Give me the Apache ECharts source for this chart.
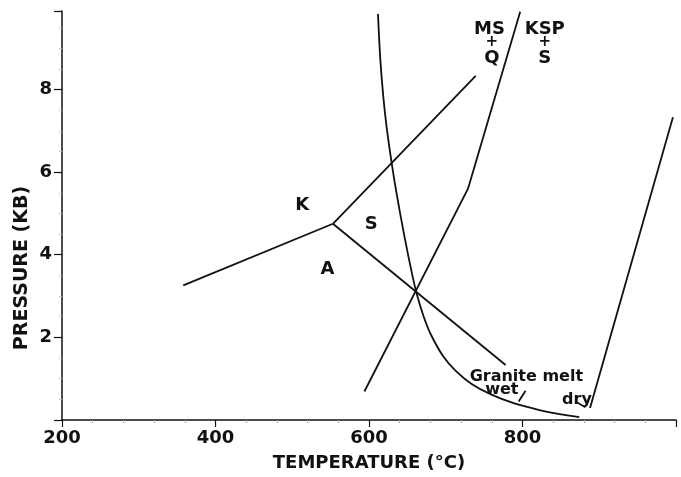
<!DOCTYPE html>
<html><head><meta charset="utf-8">
<script src="https://cdn.jsdelivr.net/npm/echarts@6/dist/echarts.min.js"></script>
<style>html,body{margin:0;padding:0;background:#fff}#c{width:681px;height:477px}</style>
</head><body><div id="c"></div>
<script>
// ---- data (temperature °C, pressure kb) ----
const xTickValues = [200, 400, 600, 800, 1000];
const xLabelValues = [200, 400, 600, 800];
const yTickValues = [0, 2, 4, 6, 8, 9.9];
const yLabelValues = [2, 4, 6, 8];

const kyaniteAndalusite = [[358, 3.26], [553, 4.75]];
const kyaniteSillimanite = [[553, 4.75], [739, 8.33]];
const andalusiteSillimanite = [[553, 4.75], [778, 1.33]];
const muscoviteQuartz = [[594, 0.69], [729, 5.6], [797, 9.88]];
const wetSolidus = [[611.7, 9.83], [614.7, 8.74], [618.8, 7.79], [623.1, 7.07], [629.6, 6.21],
  [635.6, 5.52], [646.1, 4.45], [656.5, 3.50], [662.7, 3.02], [671.3, 2.50], [680.6, 2.07],
  [696.4, 1.55], [713.0, 1.19], [733.2, 0.88], [758.9, 0.62], [789.4, 0.40], [822.1, 0.24],
  [848.1, 0.14], [874.0, 0.07]];
const drySolidus = [[888, 0.29], [996, 7.33]];
const wetPointer = [[795, 0.45], [804, 0.71]];
const dryPointer = [[869, 0.45], [882, 0.31]];

const phaseLabels = [[513, 5.29, 'K'], [603, 4.83, 'S'], [546, 3.74, 'A']];
const reactionLabels = [[757, 9.5, 'MS'], [760, 8.81, 'Q'], [829, 9.5, 'KSP'], [829, 8.81, 'S']];
const plusLabels = [[760, 9.17, '+'], [829, 9.17, '+']];
const meltLabels = [[805, 1.17, 'Granite melt'], [773, 0.86, 'wet'], [871, 0.62, 'dry']];

const FONT = 'DejaVu Sans';
const INK = '#111';

function lineSeries(data) {
  return {
    type: 'line', data: data, showSymbol: false, symbol: 'none', silent: true,
    lineStyle: { color: INK, width: 1.8 }
  };
}
function textSeries(data, size, dy) {
  return {
    type: 'scatter', data: data, symbolSize: 0, silent: true,
    itemStyle: { opacity: 1 },
    label: {
      show: true, position: 'inside', formatter: p => p.data[2], offset: [0, dy],
      fontFamily: FONT, fontWeight: 'bold', fontSize: size, color: INK, opacity: 1
    }
  };
}

const chart = echarts.init(document.getElementById('c'), null, { renderer: 'canvas' });
chart.setOption({
  animation: false,
  backgroundColor: '#fff',
  grid: { left: 62, right: 5, top: 11, bottom: 50, containLabel: false },
  xAxis: {
    type: 'value', min: 200, max: 1000, interval: 200,
    name: 'TEMPERATURE (°C)', nameLocation: 'middle', nameGap: 34,
    nameTextStyle: { fontFamily: FONT, fontWeight: 'bold', fontSize: 18, color: INK },
    axisLine: { lineStyle: { color: INK, width: 1.5 } },
    axisTick: { show: true, length: 7, lineStyle: { color: INK, width: 1.2 }, customValues: xTickValues },
    minorTick: { show: true, splitNumber: 5, length: 3, lineStyle: { color: '#aaa', width: 1 } },
    axisLabel: { fontFamily: FONT, fontWeight: 'bold', fontSize: 18, color: INK, margin: 9,
      customValues: xLabelValues },
    splitLine: { show: false }
  },
  yAxis: {
    type: 'value', min: 0, max: 9.9, interval: 2,
    axisLine: { lineStyle: { color: INK, width: 1.5 } },
    axisTick: { show: true, length: 8, lineStyle: { color: INK, width: 1.2 }, customValues: yTickValues },
    minorTick: { show: true, splitNumber: 4, length: 3, lineStyle: { color: '#bbb', width: 1 } },
    axisLabel: { fontFamily: FONT, fontWeight: 'bold', fontSize: 18, color: INK, margin: 10,
      customValues: yLabelValues },
    splitLine: { show: false }
  },
  graphic: [{
    type: 'text', x: 22, y: 268, rotation: Math.PI / 2,
    style: { text: 'PRESSURE (KB)', font: 'bold 19px "DejaVu Sans"', fill: INK,
      textAlign: 'center', textVerticalAlign: 'middle' }
  }],
  series: [
    lineSeries(kyaniteAndalusite),
    lineSeries(kyaniteSillimanite),
    lineSeries(andalusiteSillimanite),
    lineSeries(muscoviteQuartz),
    Object.assign(lineSeries(wetSolidus), { smooth: 0.3 }),
    lineSeries(drySolidus),
    lineSeries(wetPointer),
    lineSeries(dryPointer),
    textSeries(phaseLabels, 18, 4),
    textSeries(reactionLabels, 18, 2),
    textSeries(plusLabels, 15, 1),
    textSeries(meltLabels, 16, 5)
  ]
});
</script>
</body></html>
